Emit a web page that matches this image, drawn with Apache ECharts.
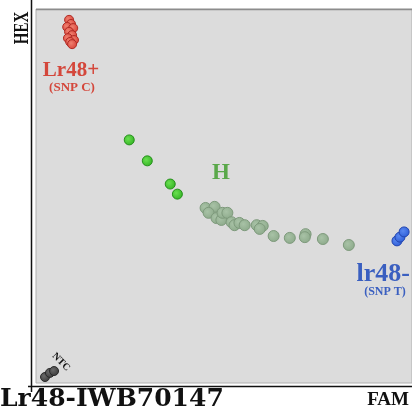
<!DOCTYPE html>
<html>
<head>
<meta charset="utf-8">
<script src="https://cdn.jsdelivr.net/npm/echarts@6/dist/echarts.min.js"></script>
<style>
  html, body { margin: 0; padding: 0; background: #ffffff; }
  #chart { width: 412px; height: 411px; }
</style>
</head>
<body>
<div id="chart"></div>
<script>
// Allele discrimination plot, KASP marker Lr48-IWB70147
// Normalised FAM (x) vs HEX (y) fluorescence per sample.

const lr48PosFAM = [0.088, 0.093, 0.083, 0.099, 0.088, 0.096, 0.085, 0.101, 0.091, 0.096];
const lr48PosHEX = [0.971, 0.960, 0.952, 0.949, 0.939, 0.930, 0.922, 0.917, 0.912, 0.906];

const hetBrightFAM = [0.248, 0.296, 0.357, 0.376];
const hetBrightHEX = [0.650, 0.594, 0.532, 0.505];

const hetFAM = [0.451, 0.475, 0.459, 0.480, 0.493, 0.496, 0.509, 0.520, 0.528, 0.541,
                0.555, 0.587, 0.603, 0.595, 0.632, 0.675, 0.717, 0.715, 0.763, 0.832];
const hetHEX = [0.468, 0.471, 0.455, 0.441, 0.436, 0.455, 0.455, 0.430, 0.422, 0.428,
                0.422, 0.422, 0.420, 0.412, 0.393, 0.388, 0.398, 0.390, 0.385, 0.369];

const lr48NegFAM = [0.960, 0.968, 0.979];
const lr48NegHEX = [0.380, 0.390, 0.404];

const ntcFAM = [0.024, 0.037, 0.048];
const ntcHEX = [0.016, 0.027, 0.032];

const zip = (xs, ys) => xs.map((x, i) => [x, ys[i]]);

const SERIF = '"Liberation Serif", serif';
const WIDE_SERIF = '"DejaVu Serif", serif';

function dotSeries(name, xs, ys, fill, edge, size) {
  return {
    name: name,
    type: 'scatter',
    data: zip(xs, ys),
    symbolSize: size,
    itemStyle: {
      opacity: 1,
      color: {
        type: 'radial', x: 0.4, y: 0.4, r: 0.6,
        colorStops: [{ offset: 0, color: fill[0] }, { offset: 1, color: fill[1] }]
      },
      borderColor: edge,
      borderWidth: 1
    },
    z: 3
  };
}

const chart = echarts.init(document.getElementById('chart'), null, { renderer: 'canvas' });

chart.setOption({
  animation: false,
  backgroundColor: '#ffffff',
  grid: {
    left: 36, top: 9, right: 0, bottom: 28,
    show: true,
    backgroundColor: '#dcdcdc',
    borderColor: '#b0b0b0',
    borderWidth: 1
  },
  xAxis: {
    type: 'value', min: 0, max: 1,
    axisLine: { show: false },
    axisTick: { show: false },
    axisLabel: { show: false },
    splitLine: { show: false }
  },
  yAxis: {
    type: 'value', min: 0, max: 1,
    axisLine: { show: false },
    axisTick: { show: false },
    axisLabel: { show: false },
    splitLine: { show: false }
  },
  series: [
    dotSeries('Lr48+', lr48PosFAM, lr48PosHEX, ['#f08070', '#d9453a'], '#b02a24', 9),
    dotSeries('H', hetBrightFAM, hetBrightHEX, ['#6ae050', '#36b526'], '#27901d', 10),
    dotSeries('H', hetFAM, hetHEX, ['#a8c2a6', '#8eab8c'], '#7e9a7c', 11),
    dotSeries('lr48-', lr48NegFAM, lr48NegHEX, ['#5a88f0', '#2f5fd8'], '#2446b0', 10),
    dotSeries('NTC', ntcFAM, ntcHEX, ['#6a6a6a', '#3c3c3c'], '#2a2a2a', 9)
  ],
  graphic: [
    // axis rules
    { type: 'line', shape: { x1: 31.5, y1: 0, x2: 31.5, y2: 392 }, style: { stroke: '#111', lineWidth: 1.5 }, z: 10 },
    { type: 'line', shape: { x1: 28, y1: 386.5, x2: 412, y2: 386.5 }, style: { stroke: '#111', lineWidth: 1.5 }, z: 10 },
    { type: 'line', shape: { x1: 36, y1: 9.5, x2: 412, y2: 9.5 }, style: { stroke: '#8c8c8c', lineWidth: 1.5 }, z: 10 },
    // axis names
    { type: 'text', x: 23, y: 28, rotation: Math.PI / 2, scaleY: 1.35,
      style: { text: 'HEX', font: 'bold 15px ' + SERIF, fill: '#111', align: 'center', verticalAlign: 'middle' } },
    { type: 'text', x: 0, y: 399,
      style: { text: 'Lr48-IWB70147', font: 'bold 25px ' + WIDE_SERIF, fill: '#111', align: 'left', verticalAlign: 'middle' } },
    { type: 'text', x: 409, y: 400,
      style: { text: 'FAM', font: 'bold 19px ' + SERIF, fill: '#111', align: 'right', verticalAlign: 'middle' } },
    // cluster labels
    { type: 'text', x: 71, y: 71,
      style: { text: 'Lr48+', font: 'bold 21px ' + SERIF, fill: '#d4473b', align: 'center', verticalAlign: 'middle' } },
    { type: 'text', x: 72, y: 88,
      style: { text: '(SNP C)', font: 'bold 13px ' + SERIF, fill: '#d4473b', align: 'center', verticalAlign: 'middle' } },
    { type: 'text', x: 221, y: 173,
      style: { text: 'H', font: 'bold 23px ' + SERIF, fill: '#5aa84a', align: 'center', verticalAlign: 'middle' } },
    { type: 'text', x: 410, y: 274,
      style: { text: 'lr48-', font: 'bold 26px ' + SERIF, fill: '#3a5fc0', align: 'right', verticalAlign: 'middle' } },
    { type: 'text', x: 385, y: 292,
      style: { text: '(SNP T)', font: 'bold 12px ' + SERIF, fill: '#3a5fc0', align: 'center', verticalAlign: 'middle' } },
    { type: 'text', x: 61, y: 362, rotation: -Math.PI / 4,
      style: { text: 'NTC', font: 'bold 10px ' + SERIF, fill: '#111', align: 'center', verticalAlign: 'middle' } }
  ]
});
</script>
</body>
</html>
